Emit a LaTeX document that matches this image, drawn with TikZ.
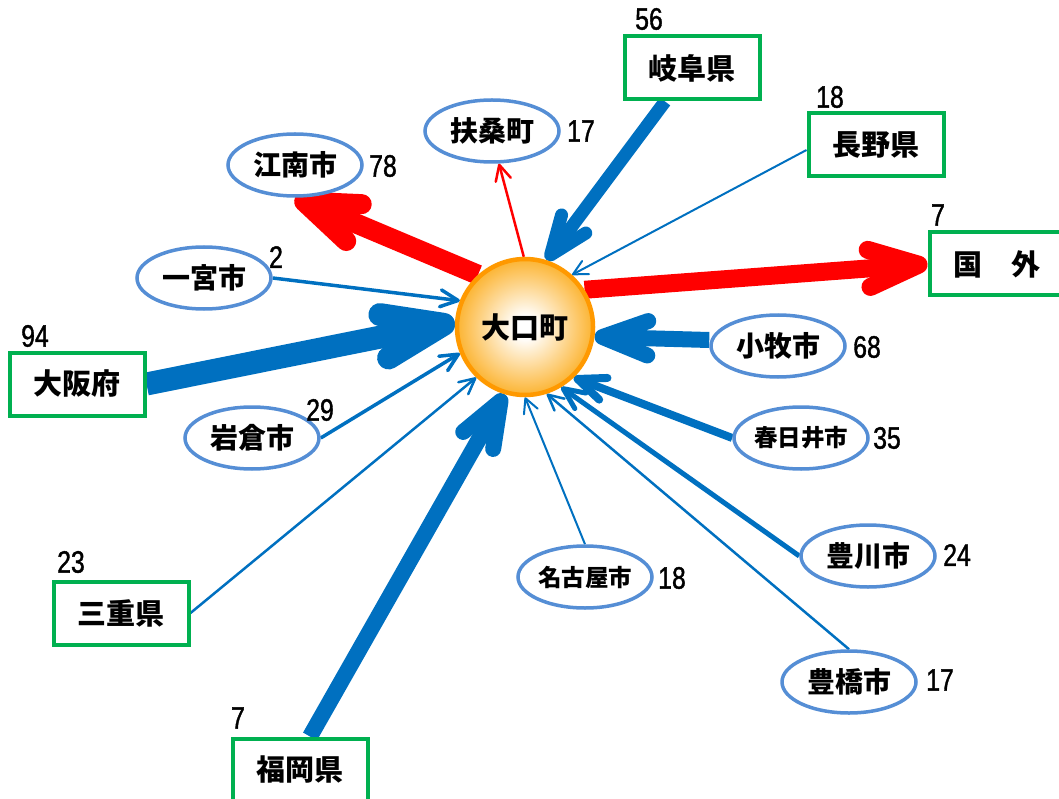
\documentclass[tikz,border=0pt]{standalone}
\usepackage{fontspec}
\newfontfamily\jp{Noto Sans CJK JP}
\newfontfamily\numf{Liberation Sans}[FakeStretch=0.8,FakeBold=1.2]
\usetikzlibrary{arrows.meta,calc,shapes.geometric,backgrounds}
\definecolor{boxgreen}{RGB}{0,176,80}
\definecolor{ellblue}{RGB}{85,142,213}
\definecolor{arrblue}{RGB}{0,112,192}
\definecolor{arrred}{RGB}{255,0,0}
\definecolor{sunedge}{RGB}{255,153,0}
\definecolor{sunfill}{RGB}{252,180,50}
\pgfdeclareradialshading{sunshade}{\pgfpoint{0bp}{0bp}}{color(0bp)=(white); color(4bp)=(white); color(25bp)=(sunfill); color(50bp)=(sunfill)}
\begin{document}
\begin{tikzpicture}[x=1pt,y=-1pt,
  pref/.style={draw=boxgreen, line width=4pt, fill=white, minimum width=135pt, minimum height=63pt, inner sep=0pt, font=\jp\bfseries\fontsize{29}{29}\selectfont},
  city/.style={ellipse, draw=ellblue, line width=3.5pt, fill=white, minimum width=134pt, minimum height=62pt, inner sep=0pt, font=\jp\bfseries\fontsize{28}{28}\selectfont},
  smallcity/.style={city, font=\jp\bfseries\fontsize{23.5}{23.5}\selectfont},
  num/.style={inner sep=0pt, font=\numf\fontsize{31}{31}\selectfont},
  sun/.style={circle, draw=sunedge, line width=4.5pt, minimum size=136pt, inner sep=0pt, shading=sunshade, font=\jp\bfseries\fontsize{29}{29}\selectfont},
  arr/.style={-{Straight Barb[round, length=10pt 2.2, width=12pt 1.4]}},
  inarr/.style={arr, draw=arrblue},
  outarr/.style={arr, draw=arrred}]
\useasboundingbox (0,0) rectangle (1059,799);

% centre
\node[sun] (c) at (525,327) {大口町};

% prefectures / boxes
\node[pref] (gifu) at (692,68) {岐阜県};
\node[pref] (nagano) at (876,145) {長野県};
\node[pref] (kokugai) at (997,264) {国　外};
\node[pref] (osaka) at (77,384) {大阪府};
\node[pref] (mie) at (121,613) {三重県};
\node[pref] (fukuoka) at (300,770) {福岡県};

% cities
\node[city] (fuso) at (492,131) {扶桑町};
\node[city] (konan) at (295,165) {江南市};
\node[city] (ichi) at (204,278) {一宮市};
\node[city] (iwakura) at (252,438) {岩倉市};
\node[city] (komaki) at (778,346) {小牧市};
\node[smallcity] (kasugai) at (801,438) {春日井市};
\node[smallcity] (nagoya) at (585,577) {名古屋市};
\node[city] (toyokawa) at (868,556) {豊川市};
\node[city] (toyohashi) at (849,682) {豊橋市};

% numbers
\node[num] (n1) at (649,19) {56};
\node[num] (n2) at (830,97) {18};
\node[num] (n3) at (938,215) {7};
\node[num] (n4) at (581,131) {17};
\node[num] (n5) at (383,166) {78};
\node[num] (n6) at (276,257) {2};
\node[num] (n7) at (35,336) {94};
\node[num] (n8) at (320,410) {29};
\node[num] (n9) at (867,347) {68};
\node[num] (n10) at (887,438) {35};
\node[num] (n11) at (672,578) {18};
\node[num] (n12) at (957,555) {24};
\node[num] (n13) at (940,680) {17};
\node[num] (n14) at (71,562) {23};
\node[num] (n15) at (238,718) {7};

\begin{scope}[on background layer]
% outgoing (red)
\draw[outarr, line width=20pt] (c.132) -- (konan.south);
\draw[outarr, line width=2.5pt] (c.91) -- (fuso.282);
\draw[outarr, line width=18pt] (c.32) -- (kokugai.west);
% incoming (blue)
\draw[inarr, line width=13pt] ($(gifu.south)+(-27,0)$) -- (c.72);
\draw[inarr, line width=2pt] ($(nagano.west)+(0,5)$) -- (c.48);
\draw[inarr, line width=3.5pt] (ichi.east) -- (c.158);
\draw[inarr, line width=23pt] (osaka.east) -- (c.176);
\draw[inarr, line width=3.5pt] (iwakura.east) -- (c.202);
\draw[inarr, line width=2.5pt] (mie.east) -- (c.226);
\draw[inarr, line width=16pt] ($(fukuoka.north)+(10,0)$) -- (c.253);
\draw[inarr, line width=2pt] (nagoya.north) -- (c.270);
\draw[inarr, line width=2.5pt] (toyohashi.north) -- (c.288);
\draw[inarr, line width=5pt] (toyokawa.west) -- (c.301);
\draw[inarr, line width=8pt] (kasugai.west) -- (c.314);
\draw[inarr, line width=16pt] ($(komaki.west)+(0,-6)$) -- (c.352);
\end{scope}
\end{tikzpicture}
\end{document}
